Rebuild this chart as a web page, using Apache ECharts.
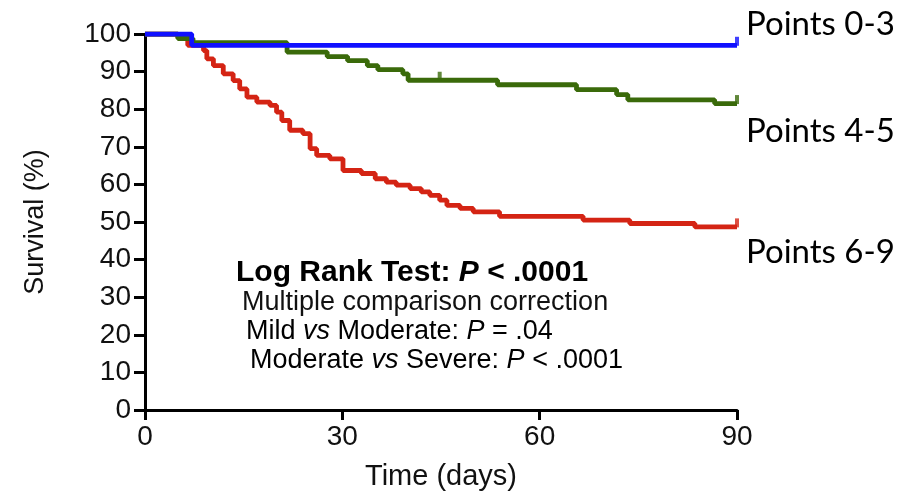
<!DOCTYPE html>
<html>
<head>
<meta charset="utf-8">
<script src="https://cdn.jsdelivr.net/npm/echarts@6/dist/echarts.min.js"></script>
<style>html,body{margin:0;padding:0;background:#fff;}#c{width:900px;height:496px;}</style>
</head>
<body>
<div id="c"></div>
<script>
// Kaplan-Meier steps: [day, survival %]
const blueDays   = [0, 7.1, 90];
const blueVals   = [100, 97, 97];
const greenDays  = [0, 5, 7.3, 21.6, 27.7, 30.8, 33.8, 35.4, 39.2, 40, 53.6, 65.6, 71.7, 73.4, 86.6, 90];
const greenVals  = [100, 98.8, 97.7, 95.2, 94, 92.9, 91.6, 90.5, 89.4, 87.7, 86.5, 85.2, 83.9, 82.5, 81.5, 81.5];
const redDays    = [0, 5, 6.5, 8.9, 9.4, 10.4, 11.9, 13.4, 14.4, 15.5, 17, 19, 20, 20.8, 22, 24, 25.1, 26.1, 28.1, 30.1, 32.9, 35, 36.7, 38.2, 40.3, 42, 43.3, 44.8, 45.9, 47.9, 49.9, 53.9, 66.6, 73.7, 83.6, 90];
const redVals    = [100, 99, 97, 95.6, 93.4, 91.6, 89.4, 87.6, 85.4, 83.2, 81.9, 81, 79.2, 77, 74.4, 73.5, 69.5, 67.7, 66.8, 63.7, 62.9, 61.5, 60.6, 59.8, 58.9, 58, 57.1, 55.8, 54.4, 53.6, 52.7, 51.5, 50.5, 49.6, 48.7, 48.7];
// censored observations (tick marks)
const blueCensor  = [[90, 97]];
const greenCensor = [[44.8, 87.7], [90, 81.5]];
const redCensor   = [[90, 48.7]];
const groupLabels = ['Points 0-3', 'Points 4-5', 'Points 6-9'];
const xTicks = {min: 0, max: 90, interval: 30};
const yTicks = {min: 0, max: 100, interval: 10};

const BLUE = '#1010ff', GREEN = '#3a6a0a', RED = '#d42414';
const zip = (a, b) => a.map((v, i) => [v, b[i]]);

const chart = echarts.init(document.getElementById('c'), null, {renderer: 'canvas'});
const axisFont = 'Liberation Sans, Arial, sans-serif';
const censorSeries = (data, color, z) => ({
  type: 'scatter', data, symbol: 'rect', symbolSize: [4, 9], symbolOffset: [0, -4],
  itemStyle: {color}, z, silent: true
});
const stepSeries = (data, color, z) => ({
  type: 'line', step: 'end', data, showSymbol: false, symbol: 'none',
  lineStyle: {color, width: 4.8}, z, silent: true
});

chart.setOption({
  animation: false,
  backgroundColor: '#fff',
  grid: {left: 145, right: 163, top: 34, bottom: 86, containLabel: false},
  xAxis: {
    type: 'value', min: xTicks.min, max: xTicks.max, interval: xTicks.interval,
    name: 'Time (days)', nameLocation: 'middle', nameGap: 52,
    nameTextStyle: {fontFamily: axisFont, fontSize: 29, color: '#111'},
    axisLine: {show: true, onZero: false, lineStyle: {color: '#000', width: 3}},
    axisTick: {show: true, length: 10, lineStyle: {color: '#000', width: 3}},
    axisLabel: {fontFamily: axisFont, fontSize: 28, color: '#111', margin: 13},
    splitLine: {show: false}
  },
  yAxis: {
    type: 'value', min: yTicks.min, max: yTicks.max, interval: yTicks.interval,
    name: 'Survival (%)', nameLocation: 'middle', nameGap: 96,
    nameTextStyle: {fontFamily: axisFont, fontSize: 27, color: '#111'},
    axisLine: {show: true, onZero: false, lineStyle: {color: '#000', width: 3}},
    axisTick: {show: true, length: 11, lineStyle: {color: '#000', width: 3}},
    axisLabel: {fontFamily: axisFont, fontSize: 28, color: '#111', margin: 14},
    splitLine: {show: false}
  },
  series: [
    stepSeries(zip(redDays, redVals), RED, 2),
    stepSeries(zip(greenDays, greenVals), GREEN, 3),
    stepSeries(zip(blueDays, blueVals), BLUE, 4),
    censorSeries(redCensor, RED, 2),
    censorSeries(greenCensor, GREEN, 3),
    censorSeries(blueCensor, BLUE, 4)
  ],
  graphic: [
    {type: 'text', left: 746, top: 8, style: {text: groupLabels[0], font: '33px Lato, "Noto Sans", sans-serif', fill: '#000'}},
    {type: 'text', left: 746, top: 115, style: {text: groupLabels[1], font: '33px Lato, "Noto Sans", sans-serif', fill: '#000'}},
    {type: 'text', left: 746, top: 236, style: {text: groupLabels[2], font: '33px Lato, "Noto Sans", sans-serif', fill: '#000'}},
    {type: 'text', left: 236, top: 258, style: {
      text: '{b|Log Rank Test: }{bi|P}{b| < .0001}',
      rich: {
        b: {fontFamily: axisFont, fontWeight: 'bold', fontSize: 30, color: '#000'},
        bi: {fontFamily: axisFont, fontWeight: 'bold', fontStyle: 'italic', fontSize: 30, color: '#000'}
      }}},
    {type: 'text', left: 242, top: 289, style: {
      text: 'Multiple comparison correction', font: '27px "Liberation Sans", Arial, sans-serif', fill: '#111'}},
    {type: 'text', left: 246, top: 318, style: {
      text: '{r|Mild }{i|vs}{r| Moderate: }{i|P}{r| = .04}',
      rich: {
        r: {fontFamily: axisFont, fontSize: 27, color: '#111'},
        i: {fontFamily: axisFont, fontStyle: 'italic', fontSize: 27, color: '#111'}
      }}},
    {type: 'text', left: 250, top: 347, style: {
      text: '{r|Moderate }{i|vs}{r| Severe: }{i|P}{r| < .0001}',
      rich: {
        r: {fontFamily: axisFont, fontSize: 27, color: '#111'},
        i: {fontFamily: axisFont, fontStyle: 'italic', fontSize: 27, color: '#111'}
      }}}
  ]
});
</script>
</body>
</html>
